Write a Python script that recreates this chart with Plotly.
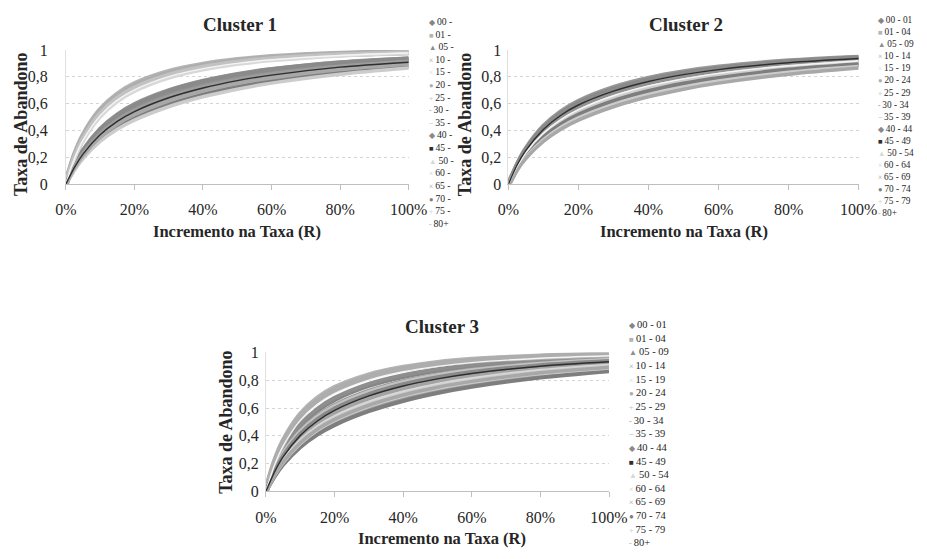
import plotly.graph_objects as go

# ---------------- data ----------------
R_PCT = [0, 2.5, 5, 10, 15, 20, 30, 40, 50, 60, 80, 100]

AGE_GROUPS = ["00 - 01", "01 - 04", "05 - 09", "10 - 14", "15 - 19", "20 - 24",
              "25 - 29", "30 - 34", "35 - 39", "40 - 44", "45 - 49", "50 - 54",
              "60 - 64", "65 - 69", "70 - 74", "75 - 79", "80+"]

CLUSTER1 = [
    [0, .135, .240, .391, .494, .569, .674, .746, .798, .838, .892, .926],  # 00-01
    [0, .209, .358, .551, .668, .744, .836, .890, .925, .947, .972, .985],  # 01-04
    [0, .140, .248, .402, .507, .583, .687, .759, .810, .849, .901, .933],  # 05-09
    [0, .145, .256, .414, .521, .597, .700, .771, .822, .859, .909, .939],  # 10-14
    [0, .189, .326, .511, .626, .703, .801, .861, .900, .927, .959, .977],  # 15-19
    [0, .202, .348, .538, .654, .731, .825, .881, .917, .941, .968, .983],  # 20-24
    [0, .195, .337, .524, .640, .717, .813, .872, .909, .935, .964, .980],  # 25-29
    [0, .130, .232, .379, .481, .555, .659, .732, .785, .826, .882, .918],  # 30-34
    [0, .121, .216, .356, .454, .526, .628, .702, .757, .799, .860, .899],  # 35-39
    [0, .143, .252, .408, .514, .592, .696, .767, .818, .856, .906, .937],  # 40-44
    [0, .125, .224, .368, .468, .541, .644, .717, .772, .813, .872, .909],  # 45-49
    [0, .182, .316, .497, .612, .689, .788, .850, .891, .919, .954, .973],  # 50-54
    [0, .116, .207, .343, .439, .510, .612, .686, .742, .785, .848, .889],  # 60-64
    [0, .128, .228, .374, .475, .548, .652, .725, .779, .820, .877, .914],  # 65-69
    [0, .111, .199, .330, .424, .494, .595, .669, .725, .769, .834, .877],  # 70-74
    [0, .106, .191, .318, .409, .477, .577, .651, .708, .753, .819, .865],  # 75-79
    [0, .119, .212, .350, .447, .518, .620, .694, .750, .792, .854, .894],  # 80+
]

CLUSTER2 = [
    [0, .140, .248, .402, .507, .583, .687, .759, .810, .849, .901, .933],  # 00-01
    [0, .121, .216, .356, .454, .526, .628, .702, .757, .799, .860, .899],  # 01-04
    [0, .145, .256, .414, .521, .597, .700, .771, .822, .859, .909, .939],  # 05-09
    [0, .154, .271, .436, .545, .622, .725, .794, .842, .877, .923, .950],  # 10-14
    [0, .130, .232, .379, .481, .555, .659, .732, .785, .826, .882, .918],  # 15-19
    [0, .125, .224, .368, .468, .541, .644, .717, .772, .813, .872, .909],  # 20-24
    [0, .135, .240, .391, .494, .569, .674, .746, .798, .838, .892, .926],  # 25-29
    [0, .138, .244, .397, .501, .576, .680, .752, .804, .844, .897, .930],  # 30-34
    [0, .148, .260, .420, .527, .604, .707, .777, .827, .864, .913, .942],  # 35-39
    [0, .150, .264, .425, .533, .610, .713, .783, .832, .868, .916, .945],  # 40-44
    [0, .143, .252, .408, .514, .590, .693, .765, .816, .854, .905, .936],  # 45-49
    [0, .128, .228, .374, .475, .548, .652, .725, .779, .820, .877, .914],  # 50-54
    [0, .123, .220, .362, .461, .534, .636, .710, .765, .806, .866, .904],  # 60-64
    [0, .116, .207, .343, .439, .510, .612, .686, .742, .785, .848, .889],  # 65-69
    [0, .119, .212, .350, .447, .518, .620, .694, .750, .792, .854, .894],  # 70-74
    [0, .111, .199, .330, .424, .494, .595, .669, .725, .769, .834, .877],  # 75-79
    [0, .106, .191, .318, .409, .477, .577, .651, .708, .753, .819, .865],  # 80+
]

CLUSTER3 = [
    [0, .168, .294, .467, .580, .657, .759, .824, .869, .901, .941, .963],  # 00-01
    [0, .209, .358, .551, .668, .744, .836, .890, .925, .947, .972, .985],  # 01-04
    [0, .175, .305, .482, .595, .673, .774, .837, .880, .910, .948, .968],  # 05-09
    [0, .154, .271, .436, .545, .622, .725, .794, .842, .877, .923, .950],  # 10-14
    [0, .189, .326, .511, .626, .703, .801, .861, .900, .927, .959, .977],  # 15-19
    [0, .202, .348, .538, .654, .731, .825, .881, .917, .941, .968, .983],  # 20-24
    [0, .150, .264, .425, .533, .610, .713, .783, .832, .868, .916, .945],  # 25-29
    [0, .130, .232, .379, .481, .555, .659, .732, .785, .826, .882, .918],  # 30-34
    [0, .135, .240, .391, .494, .569, .674, .746, .798, .838, .892, .926],  # 35-39
    [0, .145, .256, .414, .521, .597, .700, .771, .822, .859, .909, .939],  # 40-44
    [0, .140, .248, .402, .507, .583, .687, .759, .810, .849, .901, .933],  # 45-49
    [0, .125, .224, .368, .468, .541, .644, .717, .772, .813, .872, .909],  # 50-54
    [0, .121, .216, .356, .454, .526, .628, .702, .757, .799, .860, .899],  # 60-64
    [0, .111, .199, .330, .424, .494, .595, .669, .725, .769, .834, .877],  # 65-69
    [0, .106, .191, .318, .409, .477, .577, .651, .708, .753, .819, .865],  # 70-74
    [0, .116, .207, .343, .439, .510, .612, .686, .742, .785, .848, .889],  # 75-79
    [0, .119, .212, .350, .447, .518, .620, .694, .750, .792, .854, .894],  # 80+
]

X_TICKS = [0, 20, 40, 60, 80, 100]
X_TICKTEXT = ["0%", "20%", "40%", "60%", "80%", "100%"]
TITLES = ["Cluster 1", "Cluster 2", "Cluster 3"]
X_TITLE = "Incremento na Taxa (R)"
Y_TITLE = "Taxa de Abandono"

# ---------------- styles ----------------
COLORS = ["#858585", "#b4b4b4", "#8e8e8e", "#9a9a9a", "#f4f4f4", "#adadad",
          "#c2c2c2", "#929292", "#a4a4a4", "#8a8a8a", "#2e2e2e", "#d8d8d8",
          "#cdcdcd", "#9c9c9c", "#7e7e7e", "#cccccc", "#a8a8a8"]
WIDTHS = [4, 6, 4, 4, 1.4, 6, 5, 4, 4, 4, 1.4, 3, 3.5, 4, 4, 3.5, 3.5]
SYMBOLS = ["◆", "■", "▲", "×", "×", "●", "+", "-", "−", "◆", "■", "▲",
           "×", "×", "●", "+", "-"]

W, H = 927, 559
def px(x):
    return x / W
def py(y):
    return 1 - y / H

SERIF = "Liberation Serif"
TXT = "#262626"

# plot areas in pixels: (x0, x1, ytop, ybottom) and y tick label gap
AREAS = [(56.7, 411, 43.3, 181.7), (514, 876, 43.3, 181.7), (263.5, 618, 355.3, 498.5)]
Y_LABEL_GAP = [14, 3, 3]

fig = go.Figure()
data = [CLUSTER1, CLUSTER2, CLUSTER3]
draw_order = [i for i in range(17) if i not in (4, 10)] + [4, 10]
for c in range(3):
    suffix = "" if c == 0 else str(c + 1)
    for i in draw_order:
        fig.add_trace(go.Scatter(
            x=R_PCT, y=data[c][i], mode="lines", name=AGE_GROUPS[i],
            line=dict(color=COLORS[i], width=WIDTHS[i], shape="spline", smoothing=0.8),
            xaxis="x" + suffix, yaxis="y" + suffix, showlegend=False, hoverinfo="skip"))

layout = dict(width=W, height=H, margin=dict(l=0, r=0, t=0, b=0),
              paper_bgcolor="white", plot_bgcolor="white", separators=",.",
              showlegend=False, font=dict(family=SERIF, color=TXT))

for c, (x0, x1, yt, yb) in enumerate(AREAS):
    suffix = "" if c == 0 else str(c + 1)
    layout["xaxis" + suffix] = dict(
        domain=[px(x0), px(x1)], range=[0, 100], anchor="y" + suffix,
        tickmode="array", tickvals=X_TICKS, ticktext=X_TICKTEXT,
        showgrid=False, zeroline=False,
        showline=True, linecolor="#bfbfbf", linewidth=1,
        ticks="outside", ticklen=5, tickcolor="#bfbfbf", ticklabelstandoff=6,
        tickfont=dict(family=SERIF, size=16, color=TXT))
    layout["yaxis" + suffix] = dict(
        domain=[py(yb), py(yt)], range=[0, 1], anchor="x" + suffix, dtick=0.2,
        showgrid=True, gridcolor="#d4d4d4", griddash="dot", gridwidth=1,
        zeroline=False, showline=True, linecolor="#e0e0e0", ticks="",
        ticklabelstandoff=Y_LABEL_GAP[c], tickfont=dict(family=SERIF, size=16, color=TXT))

annotations = []
def ann(x, y, text, size, bold=False, angle=0, xanchor="center", yanchor="middle", align="center"):
    annotations.append(dict(
        x=px(x), y=py(y), xref="paper", yref="paper", showarrow=False,
        text=("<b>%s</b>" % text) if bold else text, textangle=angle,
        xanchor=xanchor, yanchor=yanchor, align=align, borderpad=0,
        font=dict(family=SERIF, size=size, color=TXT)))

# titles
ann(237, 17, TITLES[0], 19, bold=True)
ann(698, 17, TITLES[1], 19, bold=True)
ann(445, 328, TITLES[2], 19, bold=True)
# x axis titles
ann(234, 230, X_TITLE, 16.5, bold=True)
ann(695, 230, X_TITLE, 16.5, bold=True)
ann(445, 547, X_TITLE, 16.5, bold=True)
# y axis titles
ann(11, 120, Y_TITLE, 18, bold=True, angle=-90)
ann(470, 120, Y_TITLE, 18, bold=True, angle=-90)
ann(222, 427, Y_TITLE, 18, bold=True, angle=-90)

# legends (text lines with coloured symbols)
def legend_text(labels, sym_size):
    lines = []
    for i, lab in enumerate(labels):
        col = COLORS[i] if COLORS[i] != "#f4f4f4" else "#d8d8d8"
        lines.append('<span style="color:%s;font-size:%spx">%s</span>\u2009%s'
                     % (col, sym_size, SYMBOLS[i], lab))
    return "<br>".join(lines)

short = [a[:4] if "-" in a else a for a in AGE_GROUPS]
ann(431, 118.5, legend_text(short, 7.5), 9.7, xanchor="left", align="left")
ann(895, 111.5, legend_text(AGE_GROUPS, 7.5), 9.3, xanchor="left", align="left")
ann(638, 439, legend_text(AGE_GROUPS, 8), 10.5, xanchor="left", align="left")

layout["annotations"] = annotations
fig.update_layout(**layout)
fig.write_html("out.html")
